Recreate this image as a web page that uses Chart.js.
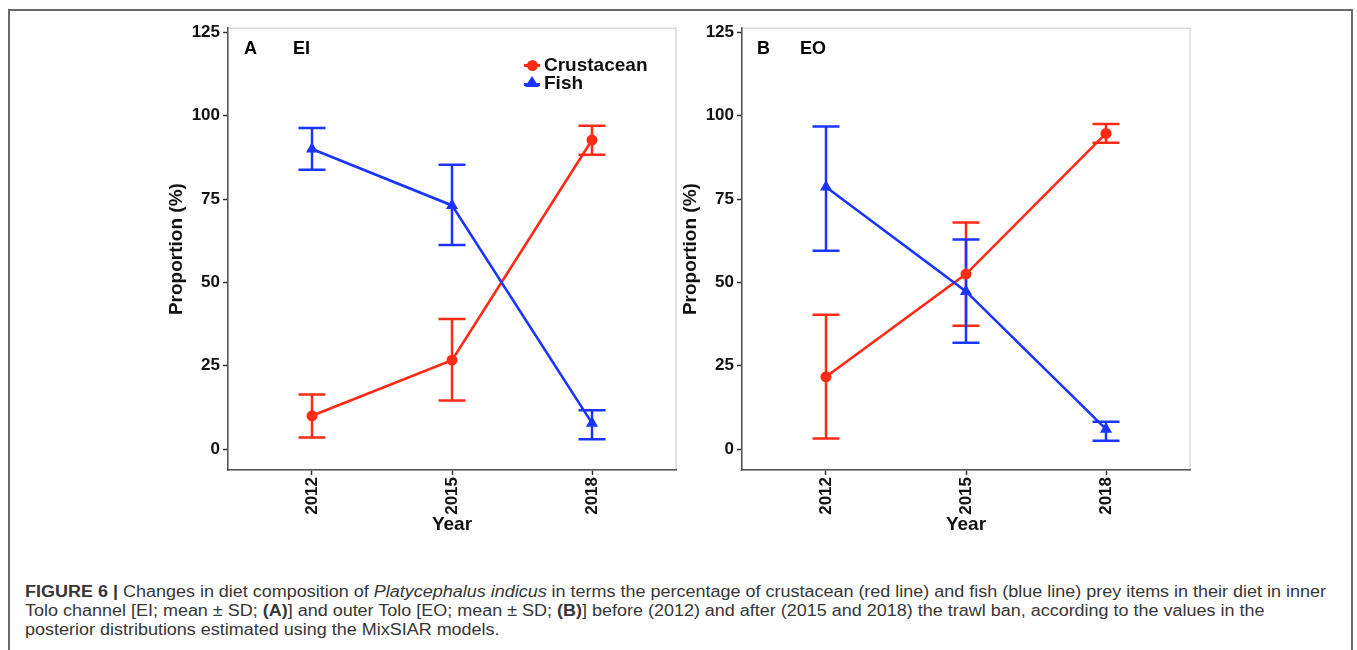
<!DOCTYPE html>
<html>
<head>
<meta charset="utf-8">
<script src="https://cdn.jsdelivr.net/npm/chart.js@4.4.0/dist/chart.umd.min.js"></script>
<style>
  html, body { margin:0; padding:0; background:#fff; }
  body { width:1357px; height:650px; overflow:hidden; position:relative; font-family:"Liberation Sans", Arial, sans-serif; }
  #frame { position:absolute; left:8px; top:9px; width:1345px; height:720px; border:2px solid #6a6a6a; box-sizing:border-box; }
  .panel { position:absolute; top:15px; width:540px; height:530px; }
  .plabel { position:absolute; font-weight:bold; font-size:18px; color:#000; line-height:20px; }
  .leg { position:absolute; font-weight:bold; font-size:19px; color:#111; line-height:20px; white-space:nowrap; }
  .key { position:absolute; }
  #caption { position:absolute; left:25px; top:582px; font-size:16px; line-height:19px; color:#363636; }
  #caption .ln { display:block; white-space:nowrap; transform-origin:0 0; width:max-content; }
</style>
</head>
<body>
<div id="frame"></div>

<div class="panel" style="left:150px;"><canvas id="chartA" width="540" height="530"></canvas></div>
<div class="panel" style="left:664px;"><canvas id="chartB" width="540" height="530"></canvas></div>

<div class="plabel" style="left:244px; top:38px;">A</div>
<div class="plabel" style="left:293px; top:38px;">EI</div>
<div class="plabel" style="left:757px; top:38px;">B</div>
<div class="plabel" style="left:800px; top:38px;">EO</div>

<!-- legend -->
<div class="key" style="left:524px; top:64px; width:16px; height:3px; background:#ff2b17;"></div>
<div class="key" style="left:526.5px; top:60px; width:11px; height:11px; border-radius:50%; background:#ff2b17;"></div>
<div class="leg" style="left:544px; top:55px;">Crustacean</div>
<div class="key" style="left:524px; top:83px; width:16px; height:3px; background:#1b35ff;"></div>
<div class="key" style="left:525px; top:76px; width:0; height:0; border-left:7px solid transparent; border-right:7px solid transparent; border-bottom:11px solid #1b35ff;"></div>
<div class="leg" style="left:544px; top:73px;">Fish</div>

<div id="caption">
  <span class="ln" id="cap1"><b>FIGURE 6 |</b> Changes in diet composition of <i>Platycephalus indicus</i> in terms the percentage of crustacean (red line) and fish (blue line) prey items in their diet in inner</span>
  <span class="ln">Tolo channel [EI; mean ± SD; <b>(A)</b>] and outer Tolo [EO; mean ± SD; <b>(B)</b>] before (2012) and after (2015 and 2018) the trawl ban, according to the values in the</span>
  <span class="ln">posterior distributions estimated using the MixSIAR models.</span>
</div>

<script>
// ---------- data ----------
const years = [2012, 2015, 2018];
const yTicks = [0, 25, 50, 75, 100, 125];

// Panel A (EI)
const eiCrustMean = [10.0, 26.7, 92.7];
const eiCrustLow  = [3.5, 14.6, 88.3];
const eiCrustHigh = [16.4, 39.0, 97.0];
const eiFishMean  = [90.0, 73.1, 7.8];
const eiFishLow   = [83.8, 61.2, 3.0];
const eiFishHigh  = [96.3, 85.3, 11.7];

// Panel B (EO)
const eoCrustMean = [21.7, 52.5, 94.7];
const eoCrustLow  = [3.2, 37.0, 91.9];
const eoCrustHigh = [40.3, 68.0, 97.5];
const eoFishMean  = [78.6, 47.3, 6.0];
const eoFishLow   = [59.5, 31.9, 2.5];
const eoFishHigh  = [96.8, 62.9, 8.2];

const RED = '#ff2b17';
const BLUE = '#1b35ff';
const FONT = '"Liberation Sans", Arial, sans-serif';

const panelBox = {
  id: 'panelBox',
  beforeDraw(chart) {
    const {ctx, chartArea: a} = chart;
    ctx.save();
    ctx.strokeStyle = '#cfcfcf';
    ctx.lineWidth = 1.2;
    ctx.strokeRect(a.left, a.top, a.right - a.left, a.bottom - a.top);
    ctx.restore();
  }
};

const errorBars = {
  id: 'errorBars',
  beforeDatasetsDraw(chart) {
    const {ctx} = chart;
    const xs = chart.scales.x, ys = chart.scales.y;
    const order = chart.data.datasets.map((d, i) => i).reverse();
    ctx.save();
    ctx.lineWidth = 2.5;
    ctx.lineCap = 'butt';
    order.forEach(i => {
      const ds = chart.data.datasets[i];
      ctx.strokeStyle = ds.borderColor;
      ds.data.forEach((p, j) => {
        const x = xs.getPixelForValue(p.x);
        const yl = ys.getPixelForValue(ds.errLow[j]);
        const yh = ys.getPixelForValue(ds.errHigh[j]);
        const hw = 13.5;
        ctx.beginPath();
        ctx.moveTo(x, yl); ctx.lineTo(x, yh);
        ctx.moveTo(x - hw, yl); ctx.lineTo(x + hw, yl);
        ctx.moveTo(x - hw, yh); ctx.lineTo(x + hw, yh);
        ctx.stroke();
      });
    });
    ctx.restore();
  }
};

function pts(means) { return years.map((y, i) => ({x: y, y: means[i]})); }

function makeChart(id, cm, cl, ch, fm, fl, fh) {
  return new Chart(document.getElementById(id), {
    type: 'line',
    data: {
      datasets: [
        { label: 'Fish', data: pts(fm), errLow: fl, errHigh: fh,
          borderColor: BLUE, backgroundColor: BLUE, borderWidth: 2.6,
          pointStyle: 'triangle', pointRadius: 7, pointBorderWidth: 0, tension: 0 },
        { label: 'Crustacean', data: pts(cm), errLow: cl, errHigh: ch,
          borderColor: RED, backgroundColor: RED, borderWidth: 2.6,
          pointStyle: 'circle', pointRadius: 5.5, pointBorderWidth: 0, tension: 0 }
      ]
    },
    options: {
      responsive: false,
      animation: false,
      events: [],
      layout: { padding: { top: 12, right: 14, left: 0, bottom: 0 } },
      plugins: { legend: { display: false }, tooltip: { enabled: false } },
      scales: {
        x: {
          type: 'linear', min: 2010.2, max: 2019.8,
          afterBuildTicks: s => { s.ticks = years.map(v => ({value: v})); },
          afterFit: s => { s.height = 75; },
          grid: { drawOnChartArea: false, drawTicks: true, tickLength: 5, tickColor: '#333', tickWidth: 1.5 },
          border: { display: true, color: '#555', width: 1.5 },
          ticks: { autoSkip: false, minRotation: 90, maxRotation: 90, padding: 2, color: '#111',
                   font: { family: FONT, size: 17, weight: 'bold' }, callback: v => String(v) },
          title: { display: true, text: 'Year', color: '#111',
                   font: { family: FONT, size: 19, weight: 'bold' }, padding: { top: 0, bottom: 9 } }
        },
        y: {
          type: 'linear', min: -6.25, max: 126.25,
          afterBuildTicks: s => { s.ticks = yTicks.map(v => ({value: v})); },
          afterFit: s => { s.width = 78; },
          grid: { drawOnChartArea: false, drawTicks: true, tickLength: 5, tickColor: '#333', tickWidth: 1.5 },
          border: { display: true, color: '#555', width: 1.5 },
          ticks: { padding: 3, color: '#111', font: { family: FONT, size: 17, weight: 'bold' }, callback: v => String(v) },
          title: { display: true, text: 'Proportion (%)', color: '#111',
                   font: { family: FONT, size: 19, weight: 'bold' }, padding: { top: 15, bottom: 0 } }
        }
      }
    },
    plugins: [panelBox, errorBars]
  });
}

makeChart('chartA', eiCrustMean, eiCrustLow, eiCrustHigh, eiFishMean, eiFishLow, eiFishHigh);
makeChart('chartB', eoCrustMean, eoCrustLow, eoCrustHigh, eoFishMean, eoFishLow, eoFishHigh);

// uniform horizontal fit of caption to the reference's first-line width
(function () {
  const first = document.getElementById('cap1');
  const w = first.getBoundingClientRect().width;
  const k = w > 0 ? 1301 / w : 1;
  document.querySelectorAll('#caption .ln').forEach(el => { el.style.transform = 'scaleX(' + k + ')'; });
})();
</script>
</body>
</html>
